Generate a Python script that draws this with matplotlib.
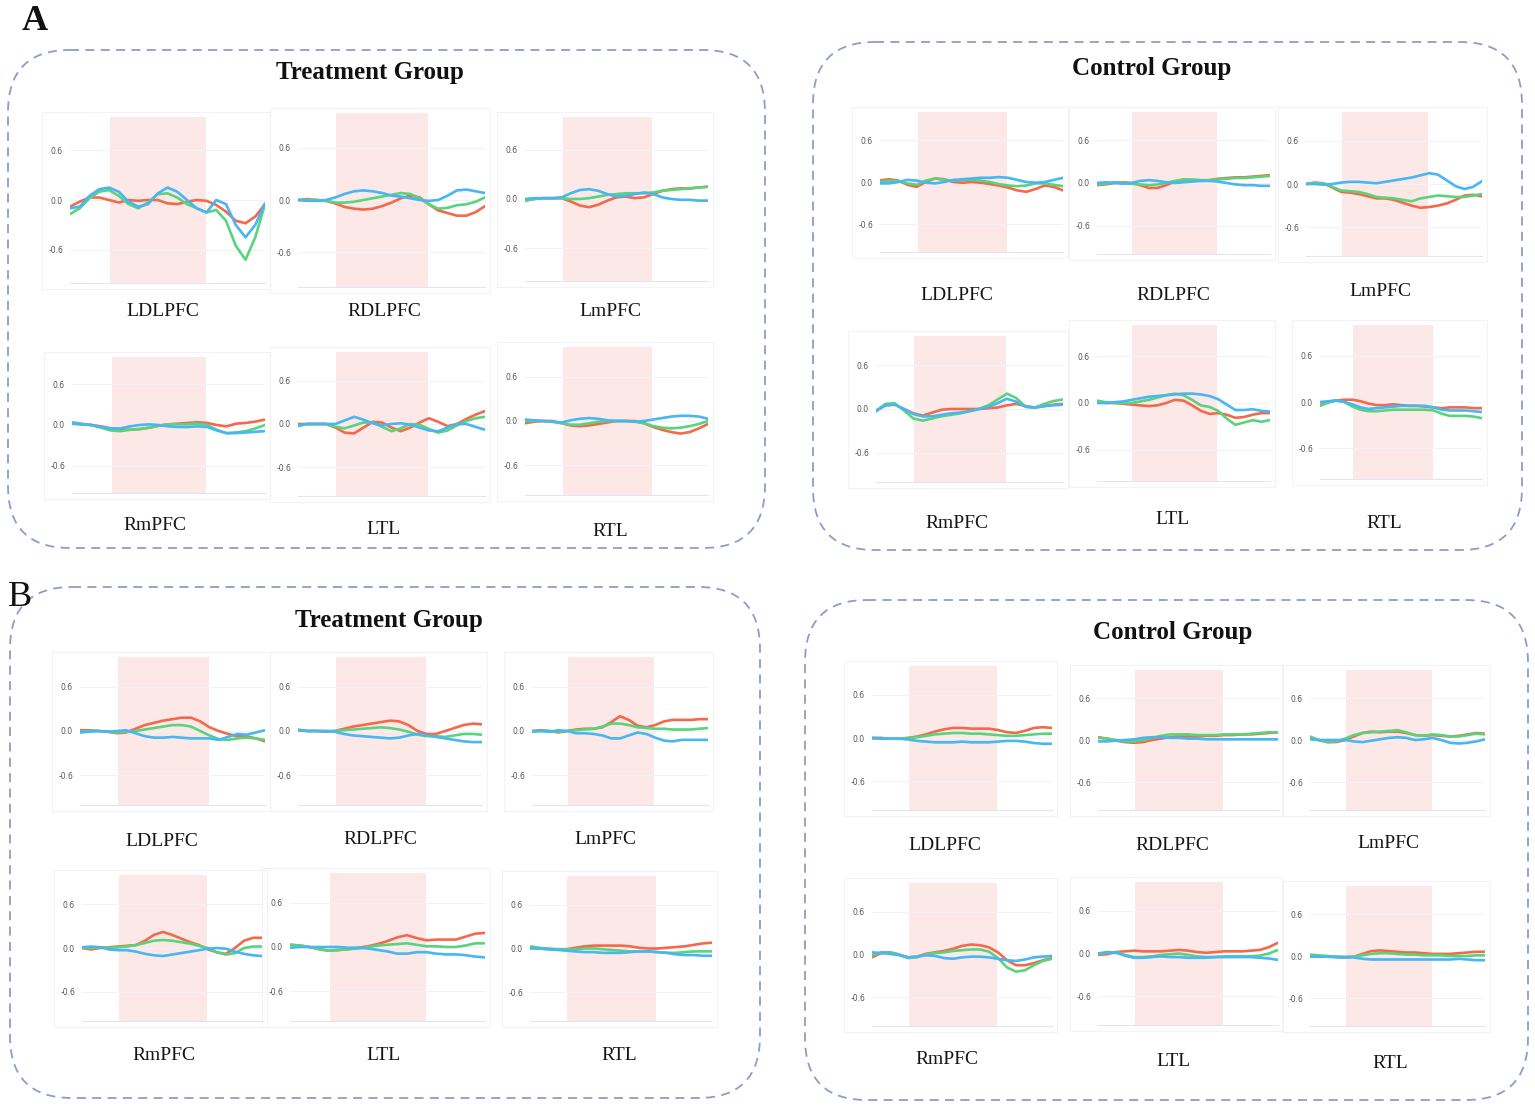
import matplotlib
matplotlib.use("Agg")
import matplotlib.pyplot as plt
from matplotlib.patches import FancyBboxPatch, Rectangle

# ---- data -------------------------------------------------------------
t = list(range(21))              # sample index along each trace
stim_on, stim_off = 4.1, 13.9    # shaded task block
regions = ["LDLPFC", "RDLPFC", "LmPFC", "RmPFC", "LTL", "RTL"]
yticks = [0.6, 0.0, -0.6]
ytick_labels = ["0.6", "0.0", "-0.6"]

# each region: (red, green, blue)
a_trt = {
    "LDLPFC": ([-0.08, -0.02, 0.03, 0.03, 0.0, -0.03, 0.0, -0.01, 0.0, 0.0, -0.04, -0.05, -0.02, 0.0, -0.01, -0.06, -0.14, -0.25, -0.28, -0.2, -0.05],
               [-0.17, -0.1, 0.02, 0.1, 0.12, 0.05, -0.05, -0.1, -0.03, 0.07, 0.08, 0.03, -0.05, -0.1, -0.15, -0.12, -0.25, -0.55, -0.72, -0.45, -0.05],
               [-0.1, -0.08, 0.05, 0.13, 0.15, 0.1, -0.02, -0.08, -0.05, 0.08, 0.15, 0.1, 0.0, -0.1, -0.15, 0.0, -0.05, -0.3, -0.45, -0.3, -0.04]),
    "RDLPFC": ([0.0, 0.01, 0.0, -0.01, -0.04, -0.08, -0.1, -0.11, -0.1, -0.07, -0.03, 0.02, 0.05, 0.03, -0.05, -0.12, -0.15, -0.18, -0.18, -0.14, -0.07],
               [0.0, 0.0, 0.0, -0.01, -0.03, -0.03, -0.02, 0.0, 0.02, 0.04, 0.06, 0.08, 0.07, 0.02, -0.05, -0.1, -0.09, -0.06, -0.05, -0.02, 0.03],
               [0.0, -0.01, -0.01, 0.0, 0.03, 0.07, 0.1, 0.11, 0.1, 0.08, 0.05, 0.04, 0.02, 0.0, -0.01, 0.0, 0.05, 0.11, 0.12, 0.1, 0.08]),
    "LmPFC": ([-0.02, 0.0, 0.01, 0.01, 0.01, -0.03, -0.08, -0.1, -0.07, -0.02, 0.02, 0.03, 0.01, 0.02, 0.06, 0.1, 0.12, 0.13, 0.13, 0.14, 0.15],
              [-0.02, 0.0, 0.01, 0.01, 0.01, 0.0, 0.0, 0.01, 0.03, 0.05, 0.06, 0.07, 0.07, 0.07, 0.08, 0.1, 0.11, 0.12, 0.13, 0.14, 0.15],
              [0.0, 0.01, 0.01, 0.01, 0.02, 0.07, 0.11, 0.12, 0.1, 0.06, 0.03, 0.04, 0.06, 0.08, 0.06, 0.02, 0.0, -0.01, -0.01, -0.02, -0.02]),
    "RmPFC": ([0.03, 0.01, 0.0, -0.02, -0.05, -0.07, -0.07, -0.06, -0.04, -0.01, 0.01, 0.02, 0.03, 0.04, 0.03, 0.0, -0.02, 0.02, 0.03, 0.05, 0.08],
              [0.04, 0.02, 0.0, -0.04, -0.08, -0.09, -0.07, -0.06, -0.04, -0.01, 0.01, 0.01, 0.01, 0.02, 0.0, -0.07, -0.12, -0.11, -0.09, -0.05, 0.0],
              [0.02, 0.01, 0.0, -0.03, -0.05, -0.05, -0.02, 0.0, 0.01, 0.0, -0.02, -0.03, -0.03, -0.02, -0.03, -0.08, -0.12, -0.12, -0.11, -0.1, -0.09]),
    "LTL": ([0.0, 0.0, 0.0, 0.0, -0.05, -0.12, -0.13, -0.05, 0.03, 0.02, -0.05, -0.1, -0.05, 0.02, 0.08, 0.03, -0.03, 0.0, 0.07, 0.13, 0.18],
            [-0.03, 0.0, 0.0, 0.0, -0.04, -0.06, -0.02, 0.02, 0.02, -0.04, -0.1, -0.06, 0.0, -0.01, -0.07, -0.12, -0.09, -0.02, 0.04, 0.08, 0.1],
            [-0.02, 0.0, 0.0, 0.0, 0.0, 0.05, 0.1, 0.06, 0.01, -0.02, 0.0, 0.01, -0.01, -0.05, -0.09, -0.1, -0.05, 0.0, 0.0, -0.04, -0.08]),
    "RTL": ([-0.03, -0.01, 0.0, 0.0, -0.03, -0.06, -0.07, -0.06, -0.04, -0.02, 0.0, 0.0, 0.0, -0.03, -0.08, -0.12, -0.15, -0.17, -0.15, -0.1, -0.04],
            [0.0, 0.0, 0.0, -0.01, -0.03, -0.05, -0.05, -0.03, -0.01, 0.0, 0.0, 0.0, -0.01, -0.03, -0.07, -0.09, -0.1, -0.09, -0.07, -0.04, 0.0],
            [0.02, 0.01, 0.0, -0.01, -0.02, 0.01, 0.03, 0.04, 0.03, 0.01, 0.0, 0.0, -0.01, 0.0, 0.02, 0.04, 0.06, 0.07, 0.07, 0.06, 0.03]),
}

a_ctl = {
    "LDLPFC": ([0.02, 0.04, 0.02, -0.04, -0.07, 0.0, 0.05, 0.04, 0.0, -0.01, 0.0, -0.01, -0.03, -0.05, -0.08, -0.12, -0.14, -0.1, -0.05, -0.07, -0.12],
               [0.0, 0.02, 0.01, -0.02, -0.04, 0.02, 0.05, 0.03, 0.02, 0.03, 0.03, 0.02, 0.0, -0.03, -0.05, -0.06, -0.05, -0.02, -0.02, -0.04, -0.06],
               [-0.02, -0.02, 0.0, 0.03, 0.02, -0.01, -0.02, 0.0, 0.03, 0.04, 0.05, 0.06, 0.06, 0.07, 0.06, 0.03, 0.0, -0.01, 0.0, 0.03, 0.06]),
    "RDLPFC": ([-0.03, -0.02, 0.0, 0.01, 0.0, -0.03, -0.07, -0.07, -0.03, 0.02, 0.05, 0.04, 0.03, 0.04, 0.06, 0.07, 0.08, 0.08, 0.09, 0.1, 0.11],
               [-0.02, -0.01, 0.01, 0.0, -0.01, -0.02, -0.03, -0.02, 0.0, 0.03, 0.05, 0.05, 0.04, 0.04, 0.05, 0.06, 0.07, 0.07, 0.08, 0.09, 0.1],
               [0.0, 0.01, 0.0, -0.01, 0.0, 0.03, 0.04, 0.03, 0.01, 0.0, 0.01, 0.02, 0.03, 0.03, 0.02, 0.0, -0.02, -0.03, -0.03, -0.04, -0.04]),
    "LmPFC": ([0.0, 0.02, 0.01, -0.05, -0.11, -0.12, -0.14, -0.17, -0.2, -0.2, -0.22, -0.26, -0.3, -0.33, -0.32, -0.3, -0.27, -0.22, -0.16, -0.15, -0.17],
              [0.0, 0.01, 0.01, -0.04, -0.09, -0.1, -0.11, -0.14, -0.18, -0.19, -0.2, -0.22, -0.24, -0.2, -0.18, -0.16, -0.17, -0.18, -0.18, -0.16, -0.14],
              [0.0, 0.0, -0.01, 0.0, 0.02, 0.03, 0.03, 0.02, 0.01, 0.03, 0.05, 0.07, 0.09, 0.12, 0.15, 0.13, 0.05, -0.03, -0.07, -0.04, 0.04]),
    "RmPFC": ([-0.02, 0.05, 0.06, 0.0, -0.06, -0.09, -0.05, -0.01, 0.0, 0.0, 0.0, 0.0, 0.01, 0.02, 0.05, 0.07, 0.04, 0.02, 0.04, 0.06, 0.07],
              [-0.03, 0.07, 0.08, -0.02, -0.13, -0.16, -0.13, -0.1, -0.08, -0.06, -0.03, 0.0, 0.05, 0.13, 0.21, 0.15, 0.03, 0.02, 0.07, 0.11, 0.13],
              [-0.03, 0.05, 0.06, 0.0, -0.07, -0.1, -0.1, -0.08, -0.06, -0.05, -0.03, 0.0, 0.03, 0.08, 0.14, 0.1, 0.03, 0.02, 0.04, 0.05, 0.06]),
    "LTL": ([0.02, 0.0, 0.0, -0.01, -0.02, -0.03, -0.04, -0.03, 0.0, 0.04, 0.03, -0.03, -0.1, -0.14, -0.13, -0.15, -0.19, -0.18, -0.15, -0.13, -0.13],
            [0.03, 0.01, 0.0, 0.0, 0.0, 0.02, 0.04, 0.07, 0.1, 0.12, 0.1, 0.04, -0.03, -0.05, -0.1, -0.2, -0.28, -0.25, -0.22, -0.24, -0.22],
            [0.0, 0.0, 0.01, 0.02, 0.04, 0.06, 0.08, 0.09, 0.1, 0.11, 0.12, 0.12, 0.11, 0.09, 0.05, -0.02, -0.09, -0.09, -0.08, -0.1, -0.11]),
    "RTL": ([-0.04, 0.0, 0.02, 0.03, 0.03, 0.01, -0.02, -0.04, -0.04, -0.03, -0.04, -0.05, -0.05, -0.06, -0.07, -0.08, -0.07, -0.07, -0.07, -0.08, -0.08],
            [-0.05, -0.01, 0.02, 0.0, -0.06, -0.1, -0.12, -0.12, -0.11, -0.1, -0.1, -0.1, -0.1, -0.1, -0.11, -0.15, -0.18, -0.18, -0.18, -0.19, -0.21],
            [0.0, 0.01, 0.02, 0.0, -0.03, -0.07, -0.09, -0.08, -0.07, -0.06, -0.05, -0.05, -0.05, -0.05, -0.07, -0.1, -0.11, -0.11, -0.11, -0.12, -0.13]),
}

b_trt = {
    "LDLPFC": ([0.01, 0.01, 0.0, -0.01, -0.03, -0.02, 0.03, 0.08, 0.11, 0.14, 0.16, 0.18, 0.18, 0.13, 0.05, 0.0, -0.04, -0.07, -0.07, -0.1, -0.14],
               [-0.01, 0.0, 0.0, -0.01, -0.02, -0.01, 0.0, 0.02, 0.04, 0.06, 0.08, 0.08, 0.06, 0.0, -0.06, -0.11, -0.12, -0.1, -0.09, -0.1, -0.12],
               [-0.02, -0.01, 0.0, -0.01, 0.0, 0.01, -0.03, -0.07, -0.09, -0.09, -0.08, -0.09, -0.1, -0.1, -0.1, -0.12, -0.08, -0.04, -0.05, -0.02, 0.01]),
    "RDLPFC": ([0.01, 0.0, 0.0, -0.01, 0.0, 0.03, 0.06, 0.08, 0.1, 0.12, 0.14, 0.13, 0.08, 0.0, -0.04, -0.04, 0.0, 0.04, 0.08, 0.1, 0.09],
               [0.02, 0.0, 0.0, 0.0, 0.0, 0.01, 0.02, 0.03, 0.04, 0.05, 0.04, 0.02, -0.01, -0.05, -0.07, -0.07, -0.08, -0.06, -0.04, -0.04, -0.05],
               [0.01, 0.0, 0.0, 0.0, -0.01, -0.04, -0.06, -0.07, -0.08, -0.09, -0.1, -0.09, -0.06, -0.04, -0.06, -0.08, -0.1, -0.12, -0.14, -0.15, -0.15]),
    "LmPFC": ([0.0, 0.01, 0.0, -0.02, 0.0, 0.02, 0.03, 0.03, 0.05, 0.12, 0.2, 0.15, 0.07, 0.05, 0.08, 0.13, 0.15, 0.15, 0.15, 0.16, 0.16],
              [0.0, 0.0, 0.0, -0.01, 0.0, 0.01, 0.02, 0.03, 0.06, 0.1, 0.1, 0.08, 0.05, 0.04, 0.03, 0.03, 0.02, 0.02, 0.02, 0.03, 0.04],
              [-0.01, 0.0, -0.01, 0.01, 0.0, -0.03, -0.03, -0.04, -0.06, -0.1, -0.1, -0.06, -0.02, -0.04, -0.09, -0.13, -0.14, -0.12, -0.12, -0.12, -0.12]),
    "RmPFC": ([0.0, -0.02, 0.0, 0.01, 0.02, 0.03, 0.04, 0.1, 0.18, 0.22, 0.18, 0.13, 0.08, 0.04, -0.02, -0.06, -0.08, 0.0, 0.1, 0.14, 0.14],
              [0.0, 0.0, 0.01, 0.0, 0.01, 0.02, 0.04, 0.07, 0.1, 0.11, 0.1, 0.08, 0.06, 0.03, 0.0, -0.06, -0.09, -0.07, 0.0, 0.02, 0.02],
              [0.01, 0.02, 0.01, -0.02, -0.03, -0.03, -0.05, -0.08, -0.1, -0.11, -0.09, -0.07, -0.05, -0.03, -0.01, 0.0, -0.01, -0.05, -0.08, -0.1, -0.11]),
    "LTL": ([0.03, 0.02, 0.0, -0.03, -0.05, -0.04, -0.03, -0.01, 0.01, 0.04, 0.08, 0.13, 0.16, 0.12, 0.09, 0.1, 0.1, 0.1, 0.14, 0.18, 0.19],
            [0.03, 0.02, 0.0, -0.03, -0.05, -0.04, -0.03, -0.02, 0.0, 0.02, 0.03, 0.04, 0.05, 0.03, 0.01, 0.01, 0.0, 0.0, 0.02, 0.05, 0.05],
            [-0.01, 0.0, 0.0, 0.0, 0.0, 0.0, -0.01, -0.01, -0.02, -0.04, -0.06, -0.09, -0.09, -0.07, -0.07, -0.09, -0.1, -0.1, -0.11, -0.13, -0.14]),
    "RTL": ([0.02, 0.0, -0.01, -0.01, -0.01, 0.01, 0.03, 0.04, 0.04, 0.04, 0.04, 0.03, 0.01, 0.0, 0.0, 0.01, 0.02, 0.03, 0.05, 0.07, 0.08],
            [0.03, 0.01, 0.0, -0.01, -0.01, -0.01, 0.0, 0.0, -0.01, -0.02, -0.03, -0.04, -0.04, -0.04, -0.05, -0.06, -0.06, -0.05, -0.04, -0.04, -0.04],
            [0.0, 0.0, -0.01, -0.02, -0.03, -0.04, -0.05, -0.05, -0.06, -0.06, -0.06, -0.05, -0.04, -0.04, -0.05, -0.06, -0.08, -0.09, -0.09, -0.1, -0.1]),
}

b_ctl = {
    "LDLPFC": ([0.0, -0.01, -0.01, -0.01, 0.0, 0.02, 0.05, 0.09, 0.12, 0.14, 0.14, 0.13, 0.13, 0.13, 0.11, 0.08, 0.07, 0.1, 0.14, 0.15, 0.14],
               [0.0, 0.0, -0.01, -0.01, 0.0, 0.01, 0.03, 0.05, 0.06, 0.07, 0.07, 0.06, 0.06, 0.05, 0.04, 0.03, 0.03, 0.04, 0.05, 0.06, 0.06],
               [0.0, 0.0, -0.01, -0.01, -0.02, -0.04, -0.05, -0.06, -0.06, -0.06, -0.05, -0.06, -0.06, -0.06, -0.05, -0.04, -0.04, -0.05, -0.07, -0.08, -0.08]),
    "RDLPFC": ([0.04, 0.02, -0.01, -0.03, -0.04, -0.03, 0.0, 0.02, 0.04, 0.05, 0.05, 0.05, 0.06, 0.06, 0.07, 0.07, 0.08, 0.08, 0.09, 0.1, 0.11],
               [0.03, 0.02, 0.0, -0.02, -0.02, 0.0, 0.03, 0.06, 0.08, 0.08, 0.08, 0.07, 0.07, 0.07, 0.08, 0.08, 0.08, 0.09, 0.1, 0.11, 0.11],
               [-0.02, -0.02, -0.01, 0.0, 0.01, 0.03, 0.04, 0.04, 0.03, 0.03, 0.02, 0.02, 0.01, 0.01, 0.01, 0.01, 0.01, 0.01, 0.01, 0.01, 0.01]),
    "LmPFC": ([0.03, 0.0, -0.03, -0.03, 0.0, 0.05, 0.1, 0.12, 0.11, 0.12, 0.12, 0.1, 0.07, 0.06, 0.07, 0.06, 0.05, 0.06, 0.08, 0.1, 0.09],
              [0.05, 0.0, -0.03, -0.02, 0.02, 0.07, 0.1, 0.11, 0.12, 0.13, 0.14, 0.11, 0.07, 0.06, 0.08, 0.07, 0.05, 0.05, 0.07, 0.09, 0.08],
              [0.01, 0.0, 0.0, 0.0, 0.0, -0.02, -0.03, -0.01, 0.01, 0.03, 0.04, 0.03, 0.0, 0.01, 0.03, 0.0, -0.04, -0.05, -0.04, -0.02, 0.01]),
    "RmPFC": ([-0.04, 0.02, 0.03, 0.0, -0.04, -0.03, 0.01, 0.03, 0.05, 0.08, 0.12, 0.14, 0.13, 0.1, 0.03, -0.08, -0.15, -0.15, -0.12, -0.08, -0.05],
              [-0.01, 0.03, 0.03, 0.0, -0.05, -0.04, 0.0, 0.02, 0.03, 0.05, 0.06, 0.07, 0.07, 0.04, -0.05, -0.18, -0.24, -0.22, -0.15, -0.09, -0.06],
              [0.03, 0.02, 0.01, -0.01, -0.04, -0.03, -0.01, -0.02, -0.05, -0.06, -0.04, -0.03, -0.03, -0.04, -0.06, -0.08, -0.09, -0.07, -0.04, -0.03, -0.02]),
    "LTL": ([-0.02, -0.01, 0.02, 0.03, 0.04, 0.03, 0.03, 0.03, 0.04, 0.05, 0.04, 0.02, 0.01, 0.02, 0.03, 0.03, 0.03, 0.04, 0.05, 0.09, 0.15],
            [-0.01, 0.01, 0.02, -0.02, -0.05, -0.05, -0.04, -0.02, -0.01, 0.0, -0.02, -0.04, -0.05, -0.05, -0.04, -0.04, -0.04, -0.04, -0.03, 0.0, 0.05],
            [0.0, 0.02, 0.01, -0.03, -0.06, -0.06, -0.05, -0.04, -0.05, -0.05, -0.06, -0.06, -0.06, -0.05, -0.05, -0.05, -0.05, -0.05, -0.06, -0.07, -0.09]),
    "RTL": ([0.01, 0.0, -0.01, -0.01, -0.02, -0.01, 0.03, 0.07, 0.08, 0.07, 0.06, 0.05, 0.05, 0.04, 0.03, 0.03, 0.03, 0.04, 0.05, 0.06, 0.06],
            [0.02, 0.01, 0.0, -0.01, -0.01, -0.01, 0.01, 0.03, 0.04, 0.04, 0.03, 0.02, 0.02, 0.01, 0.01, 0.01, 0.0, 0.0, 0.0, 0.01, 0.01],
            [-0.01, -0.01, -0.01, -0.02, -0.02, -0.02, -0.04, -0.05, -0.05, -0.05, -0.05, -0.05, -0.05, -0.05, -0.05, -0.05, -0.05, -0.04, -0.05, -0.06, -0.06]),
}

# ---- layout (pixel coordinates of the reference) ----------------------
W, H = 1535, 1107
# plot areas: left, top, right, bottom ; label centre x, y
layout_a_trt = [(70, 117, 265, 283, 163, 312), (298, 113, 485, 287, 384, 312), (525, 117, 708, 281, 610, 312),
                (72, 357, 265, 493, 155, 526), (298, 352, 485, 496, 383, 530), (525, 347, 708, 495, 610, 532)]
layout_a_ctl = [(880, 112, 1063, 252, 957, 295), (1097, 112, 1270, 254, 1173, 295), (1306, 112, 1482, 256, 1380, 291),
                (876, 336, 1063, 482, 957, 523), (1097, 325, 1270, 481, 1172, 519), (1320, 325, 1482, 479, 1384, 523)]
layout_b_trt = [(80, 657, 265, 805, 162, 842), (298, 657, 482, 805, 380, 840), (532, 657, 708, 805, 605, 840),
                (82, 875, 262, 1021, 164, 1055), (290, 873, 485, 1021, 383, 1055), (530, 876, 712, 1021, 619, 1055)]
layout_b_ctl = [(872, 666, 1052, 810, 945, 845), (1098, 670, 1278, 810, 1172, 845), (1310, 670, 1485, 810, 1388, 843),
                (872, 883, 1052, 1026, 947, 1060), (1098, 882, 1278, 1025, 1173, 1062), (1310, 886, 1485, 1026, 1390, 1064)]

RED, GREEN, BLUE = "#f2694c", "#5ad47c", "#48b6f2"
PINK = "#fde8e8"
SERIF = ["Liberation Serif", "DejaVu Serif"]

fig = plt.figure(figsize=(W / 100, H / 100), dpi=100)
bg = fig.add_axes([0, 0, 1, 1], zorder=0)
bg.set_xlim(0, W)
bg.set_ylim(H, 0)
bg.axis("off")


def group_box(x0, y0, x1, y1, title, tx, ty):
    box = FancyBboxPatch((x0, y0), x1 - x0, y1 - y0,
                         boxstyle="round,pad=0,rounding_size=62",
                         fill=False, ec="#8e9cc9", lw=1.3, ls=(0, (5, 3.5)))
    bg.add_patch(box)
    bg.text(tx, ty, title, ha="center", va="center", fontsize=18,
            fontweight="bold", family=SERIF, color="#111111")


def draw_panel(data, layout):
    for name, (l, tp, r, b, lx, ly) in zip(regions, layout):
        bg.add_patch(Rectangle((l - 28, tp - 5), r - l + 33, b - tp + 11,
                               fill=False, ec="#f2f3f7", lw=0.8))
        ax = fig.add_axes([l / W, 1 - b / H, (r - l) / W, (b - tp) / H], zorder=2)
        red, green, blue = data[name]
        ax.axvspan(stim_on, stim_off, color=PINK, lw=0, zorder=0)
        ax.plot(t, red, color=RED, lw=1.9, solid_capstyle="round", solid_joinstyle="round", zorder=3)
        ax.plot(t, green, color=GREEN, lw=1.9, solid_capstyle="round", solid_joinstyle="round", zorder=3)
        ax.plot(t, blue, color=BLUE, lw=1.9, solid_capstyle="round", solid_joinstyle="round", zorder=3)
        ax.set_xlim(t[0], t[-1])
        ax.set_ylim(-1.0, 1.0)
        ax.set_yticks(yticks)
        ax.set_yticklabels(ytick_labels, fontsize=5.5, color="#555555")
        ax.set_xticks([])
        ax.tick_params(axis="y", length=0, pad=5)
        ax.grid(axis="y", color="#f1f2f6", lw=0.8, zorder=1)
        ax.set_axisbelow(True)
        for s in ["top", "left", "right"]:
            ax.spines[s].set_visible(False)
        ax.spines["bottom"].set_color("#e4e6ee")
        ax.spines["bottom"].set_linewidth(0.8)
        bg.text(lx, ly, name, ha="center", va="center", fontsize=14,
                family=SERIF, color="#151515")


group_box(8, 50, 765, 548, "Treatment Group", 370, 73)
group_box(813, 42, 1522, 550, "Control Group", 1152, 69)
group_box(10, 587, 760, 1098, "Treatment Group", 389, 621)
group_box(805, 600, 1528, 1100, "Control Group", 1173, 633)

draw_panel(a_trt, layout_a_trt)
draw_panel(a_ctl, layout_a_ctl)
draw_panel(b_trt, layout_b_trt)
draw_panel(b_ctl, layout_b_ctl)

bg.text(35, 21, "A", ha="center", va="center", fontsize=26, fontweight="bold",
        family=SERIF, color="#111111")
bg.text(20, 597, "B", ha="center", va="center", fontsize=26,
        family=SERIF, color="#111111")

fig.savefig("out.png", dpi=100, facecolor="white")
